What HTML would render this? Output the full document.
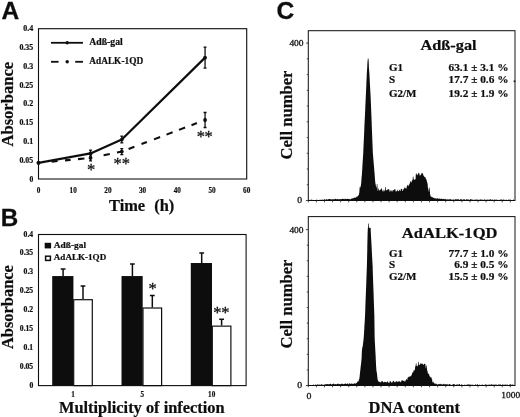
<!DOCTYPE html>
<html><head><meta charset="utf-8"><title>Figure</title>
<style>
html,body{margin:0;padding:0;background:#fff;}
body{width:520px;height:417px;overflow:hidden;}
svg{display:block;}
.sb{font-family:"Liberation Serif","Times New Roman",serif;font-weight:bold;fill:#111;stroke:#111;stroke-width:0.22px;}
.sr{font-family:"Liberation Serif","Times New Roman",serif;font-weight:normal;fill:#111;stroke:#111;stroke-width:0.3px;}
.h{font-family:"Liberation Sans",Arial,sans-serif;font-weight:bold;fill:#111;stroke:#111;stroke-width:0.3px;}
</style></head><body>
<svg width="520" height="417" viewBox="0 0 520 417">
<defs><filter id="soft" x="0" y="0" width="520" height="417" filterUnits="userSpaceOnUse"><feGaussianBlur stdDeviation="0.35"/></filter></defs>
<rect width="520" height="417" fill="#fff"/>
<g filter="url(#soft)">
<text x="1.60" y="18.50" font-size="24.50" class="h" text-anchor="start" >A</text>
<rect x="38.50" y="28.70" width="208.20" height="150.30" fill="none" stroke="#111" stroke-width="1.1"/>
<text x="33.20" y="181.60" font-size="8.60" class="sb" text-anchor="end" textLength="3.80" lengthAdjust="spacingAndGlyphs" >0</text>
<text x="33.20" y="162.81" font-size="8.60" class="sb" text-anchor="end" textLength="13.80" lengthAdjust="spacingAndGlyphs" >0.05</text>
<text x="33.20" y="144.03" font-size="8.60" class="sb" text-anchor="end" textLength="10.00" lengthAdjust="spacingAndGlyphs" >0.1</text>
<text x="33.20" y="125.24" font-size="8.60" class="sb" text-anchor="end" textLength="13.80" lengthAdjust="spacingAndGlyphs" >0.15</text>
<text x="33.20" y="106.45" font-size="8.60" class="sb" text-anchor="end" textLength="10.00" lengthAdjust="spacingAndGlyphs" >0.2</text>
<text x="33.20" y="87.66" font-size="8.60" class="sb" text-anchor="end" textLength="13.80" lengthAdjust="spacingAndGlyphs" >0.25</text>
<text x="33.20" y="68.87" font-size="8.60" class="sb" text-anchor="end" textLength="10.00" lengthAdjust="spacingAndGlyphs" >0.3</text>
<text x="33.20" y="50.09" font-size="8.60" class="sb" text-anchor="end" textLength="13.80" lengthAdjust="spacingAndGlyphs" >0.35</text>
<text x="33.20" y="31.30" font-size="8.60" class="sb" text-anchor="end" textLength="10.00" lengthAdjust="spacingAndGlyphs" >0.4</text>
<text x="38.50" y="192.70" font-size="8.80" class="sb" text-anchor="middle" textLength="3.60" lengthAdjust="spacingAndGlyphs" >0</text>
<text x="73.20" y="192.70" font-size="8.80" class="sb" text-anchor="middle" textLength="7.20" lengthAdjust="spacingAndGlyphs" >10</text>
<text x="107.90" y="192.70" font-size="8.80" class="sb" text-anchor="middle" textLength="7.20" lengthAdjust="spacingAndGlyphs" >20</text>
<text x="142.60" y="192.70" font-size="8.80" class="sb" text-anchor="middle" textLength="7.20" lengthAdjust="spacingAndGlyphs" >30</text>
<text x="177.30" y="192.70" font-size="8.80" class="sb" text-anchor="middle" textLength="7.20" lengthAdjust="spacingAndGlyphs" >40</text>
<text x="212.00" y="192.70" font-size="8.80" class="sb" text-anchor="middle" textLength="7.20" lengthAdjust="spacingAndGlyphs" >50</text>
<text x="246.70" y="192.70" font-size="8.80" class="sb" text-anchor="middle" textLength="7.20" lengthAdjust="spacingAndGlyphs" >60</text>
<text transform="translate(13.10 104.20) rotate(-90)" font-size="16.40" class="sb" text-anchor="middle" textLength="84.70" lengthAdjust="spacingAndGlyphs">Absorbance</text>
<text x="109.00" y="210.80" font-size="16.40" class="sb" text-anchor="start" >Time</text>
<text x="154.20" y="210.80" font-size="16.40" class="sb" text-anchor="start" >(h)</text>
<line x1="51" y1="42.8" x2="83" y2="42.8" stroke="#111" stroke-width="1.8"/>
<circle cx="67.2" cy="42.7" r="1.7" fill="#111"/>
<text x="89.20" y="45.30" font-size="9.60" class="sb" text-anchor="start" textLength="33.60" lengthAdjust="spacingAndGlyphs" >Adß-gal</text>
<line x1="51" y1="61.8" x2="58.6" y2="61.8" stroke="#111" stroke-width="1.8"/>
<line x1="75.2" y1="61.8" x2="83" y2="61.8" stroke="#111" stroke-width="1.8"/>
<circle cx="67.2" cy="61.7" r="1.7" fill="#111"/>
<text x="89.20" y="64.00" font-size="9.60" class="sb" text-anchor="start" textLength="54.00" lengthAdjust="spacingAndGlyphs" >AdALK-1QD</text>
<polyline points="38.50,162.84 90.55,153.45 121.78,139.55 205.06,57.63" fill="none" stroke="#111" stroke-width="2.2" stroke-linejoin="round"/>
<path d="M51.60 161.61L57.60 161.05M65.00 160.36L70.60 159.83M78.00 159.14L84.40 158.54M103.60 155.29L109.80 154.02M117.00 152.55L122.00 151.49M128.60 148.99L134.40 146.79M141.50 144.10L146.90 142.05M154.00 139.36L160.10 137.05M166.50 134.62L172.60 132.31M179.00 129.88L185.10 127.57M191.50 125.15L196.90 123.10" fill="none" stroke="#111" stroke-width="2.1"/>
<circle cx="38.50" cy="162.84" r="1.9" fill="#111"/>
<circle cx="90.55" cy="153.45" r="1.9" fill="#111"/>
<path d="M90.55 150.07V156.83M89.05 150.07h3M89.05 156.83h3" stroke="#111" stroke-width="1.3" fill="none"/>
<circle cx="121.78" cy="139.55" r="1.9" fill="#111"/>
<path d="M121.78 136.16V142.93M120.28 136.16h3M120.28 142.93h3" stroke="#111" stroke-width="1.3" fill="none"/>
<circle cx="205.06" cy="57.63" r="1.9" fill="#111"/>
<path d="M205.06 47.11V68.15M203.56 47.11h3M203.56 68.15h3" stroke="#111" stroke-width="1.3" fill="none"/>
<circle cx="38.50" cy="162.84" r="1.9" fill="#111"/>
<circle cx="90.55" cy="157.96" r="1.9" fill="#111"/>
<path d="M90.55 154.95V160.96M89.05 154.95h3M89.05 160.96h3" stroke="#111" stroke-width="1.3" fill="none"/>
<circle cx="121.78" cy="151.57" r="1.9" fill="#111"/>
<path d="M121.78 148.56V154.58M120.28 148.56h3M120.28 154.58h3" stroke="#111" stroke-width="1.3" fill="none"/>
<circle cx="205.06" cy="120.01" r="1.9" fill="#111"/>
<path d="M205.06 112.49V127.52M203.56 112.49h3M203.56 127.52h3" stroke="#111" stroke-width="1.3" fill="none"/>
<text x="91.20" y="175.38" font-size="16.50" class="sr" text-anchor="middle" stroke="#111" stroke-width="0.35">*</text>
<text x="117.70" y="169.08" font-size="16.50" class="sr" text-anchor="middle" stroke="#111" stroke-width="0.35">*</text>
<text x="125.80" y="169.08" font-size="16.50" class="sr" text-anchor="middle" stroke="#111" stroke-width="0.35">*</text>
<text x="200.80" y="141.98" font-size="16.50" class="sr" text-anchor="middle" stroke="#111" stroke-width="0.35">*</text>
<text x="208.60" y="141.98" font-size="16.50" class="sr" text-anchor="middle" stroke="#111" stroke-width="0.35">*</text>
<text x="0.80" y="226.30" font-size="24.20" class="h" text-anchor="start" >B</text>
<rect x="38.50" y="234.50" width="207.60" height="151.10" fill="none" stroke="#111" stroke-width="1.1"/>
<text x="33.20" y="387.60" font-size="8.20" class="sb" text-anchor="end" textLength="3.80" lengthAdjust="spacingAndGlyphs" >0</text>
<text x="33.20" y="368.71" font-size="8.20" class="sb" text-anchor="end" textLength="13.40" lengthAdjust="spacingAndGlyphs" >0.05</text>
<text x="33.20" y="349.83" font-size="8.20" class="sb" text-anchor="end" textLength="9.60" lengthAdjust="spacingAndGlyphs" >0.1</text>
<text x="33.20" y="330.94" font-size="8.20" class="sb" text-anchor="end" textLength="13.40" lengthAdjust="spacingAndGlyphs" >0.15</text>
<text x="33.20" y="312.05" font-size="8.20" class="sb" text-anchor="end" textLength="9.60" lengthAdjust="spacingAndGlyphs" >0.2</text>
<text x="33.20" y="293.16" font-size="8.20" class="sb" text-anchor="end" textLength="13.40" lengthAdjust="spacingAndGlyphs" >0.25</text>
<text x="33.20" y="274.27" font-size="8.20" class="sb" text-anchor="end" textLength="9.60" lengthAdjust="spacingAndGlyphs" >0.3</text>
<text x="33.20" y="255.39" font-size="8.20" class="sb" text-anchor="end" textLength="13.40" lengthAdjust="spacingAndGlyphs" >0.35</text>
<text x="33.20" y="236.50" font-size="8.20" class="sb" text-anchor="end" textLength="9.60" lengthAdjust="spacingAndGlyphs" >0.4</text>
<text transform="translate(13.10 307.10) rotate(-90)" font-size="16.40" class="sb" text-anchor="middle" textLength="84.00" lengthAdjust="spacingAndGlyphs">Absorbance</text>
<text x="59.00" y="412.60" font-size="16.40" class="sb" text-anchor="start" textLength="165.60" lengthAdjust="spacingAndGlyphs" >Multiplicity of infection</text>
<rect x="44.7" y="242.8" width="6.4" height="5.6" fill="#111"/>
<text x="53.80" y="248.00" font-size="9.20" class="sb" text-anchor="start" textLength="32.20" lengthAdjust="spacingAndGlyphs" >Adß-gal</text>
<rect x="45.6" y="256.2" width="4.8" height="4.2" fill="#fff" stroke="#111" stroke-width="1.5"/>
<text x="53.80" y="260.20" font-size="9.20" class="sb" text-anchor="start" textLength="52.40" lengthAdjust="spacingAndGlyphs" >AdALK-1QD</text>
<rect x="52.20" y="276.05" width="21.2" height="109.55" fill="#111"/>
<rect x="73.70" y="299.70" width="18.6" height="85.90" fill="#fff" stroke="#111" stroke-width="1.2"/>
<path d="M63.10 276.05V268.50M60.70 269.00h4.8" stroke="#111" stroke-width="1.5" fill="none"/>
<path d="M83.00 299.10V285.50M80.60 286.00h4.8" stroke="#111" stroke-width="1.5" fill="none"/>
<text x="73.10" y="397.20" font-size="8.60" class="sb" text-anchor="middle" textLength="3.60" lengthAdjust="spacingAndGlyphs" >1</text>
<rect x="121.50" y="276.05" width="21.2" height="109.55" fill="#111"/>
<rect x="143.00" y="308.01" width="18.6" height="77.59" fill="#fff" stroke="#111" stroke-width="1.2"/>
<path d="M132.40 276.05V263.59M130.00 264.09h4.8" stroke="#111" stroke-width="1.5" fill="none"/>
<path d="M152.30 307.41V294.94M149.90 295.44h4.8" stroke="#111" stroke-width="1.5" fill="none"/>
<text x="142.40" y="397.20" font-size="8.60" class="sb" text-anchor="middle" textLength="3.60" lengthAdjust="spacingAndGlyphs" >5</text>
<rect x="190.80" y="263.02" width="21.2" height="122.58" fill="#111"/>
<rect x="212.30" y="326.14" width="18.6" height="59.46" fill="#fff" stroke="#111" stroke-width="1.2"/>
<path d="M201.70 263.02V252.44M199.30 252.94h4.8" stroke="#111" stroke-width="1.5" fill="none"/>
<path d="M221.60 325.54V318.74M219.20 319.24h4.8" stroke="#111" stroke-width="1.5" fill="none"/>
<text x="211.70" y="397.20" font-size="8.60" class="sb" text-anchor="middle" textLength="7.20" lengthAdjust="spacingAndGlyphs" >10</text>
<text x="152.50" y="294.38" font-size="16.50" class="sr" text-anchor="middle" stroke="#111" stroke-width="0.35">*</text>
<text x="217.30" y="317.88" font-size="16.50" class="sr" text-anchor="middle" stroke="#111" stroke-width="0.35">*</text>
<text x="225.30" y="317.88" font-size="16.50" class="sr" text-anchor="middle" stroke="#111" stroke-width="0.35">*</text>
<text x="276.40" y="18.60" font-size="24.60" class="h" text-anchor="start" >C</text>
<rect x="308.30" y="30.70" width="206.70" height="169.80" fill="none" stroke="#111" stroke-width="1.0"/>
<line x1="305.90" y1="200.50" x2="308.30" y2="200.50" stroke="#222" stroke-width="0.8"/>
<line x1="306.80" y1="184.76" x2="308.30" y2="184.76" stroke="#222" stroke-width="0.8"/>
<line x1="306.80" y1="169.02" x2="308.30" y2="169.02" stroke="#222" stroke-width="0.8"/>
<line x1="306.80" y1="153.28" x2="308.30" y2="153.28" stroke="#222" stroke-width="0.8"/>
<line x1="306.80" y1="137.54" x2="308.30" y2="137.54" stroke="#222" stroke-width="0.8"/>
<line x1="306.80" y1="121.80" x2="308.30" y2="121.80" stroke="#222" stroke-width="0.8"/>
<line x1="306.80" y1="106.06" x2="308.30" y2="106.06" stroke="#222" stroke-width="0.8"/>
<line x1="306.80" y1="90.32" x2="308.30" y2="90.32" stroke="#222" stroke-width="0.8"/>
<line x1="306.80" y1="74.58" x2="308.30" y2="74.58" stroke="#222" stroke-width="0.8"/>
<line x1="306.80" y1="58.84" x2="308.30" y2="58.84" stroke="#222" stroke-width="0.8"/>
<line x1="305.90" y1="43.10" x2="308.30" y2="43.10" stroke="#222" stroke-width="0.8"/>
<line x1="308.30" y1="200.50" x2="308.30" y2="202.30" stroke="#222" stroke-width="0.8"/>
<line x1="316.38" y1="200.50" x2="316.38" y2="202.30" stroke="#222" stroke-width="0.8"/>
<line x1="324.46" y1="200.50" x2="324.46" y2="202.30" stroke="#222" stroke-width="0.8"/>
<line x1="332.55" y1="200.50" x2="332.55" y2="202.30" stroke="#222" stroke-width="0.8"/>
<line x1="340.63" y1="200.50" x2="340.63" y2="202.30" stroke="#222" stroke-width="0.8"/>
<line x1="348.71" y1="200.50" x2="348.71" y2="202.30" stroke="#222" stroke-width="0.8"/>
<line x1="356.79" y1="200.50" x2="356.79" y2="202.30" stroke="#222" stroke-width="0.8"/>
<line x1="364.87" y1="200.50" x2="364.87" y2="202.30" stroke="#222" stroke-width="0.8"/>
<line x1="372.96" y1="200.50" x2="372.96" y2="202.30" stroke="#222" stroke-width="0.8"/>
<line x1="381.04" y1="200.50" x2="381.04" y2="202.30" stroke="#222" stroke-width="0.8"/>
<line x1="389.12" y1="200.50" x2="389.12" y2="202.30" stroke="#222" stroke-width="0.8"/>
<line x1="397.20" y1="200.50" x2="397.20" y2="202.30" stroke="#222" stroke-width="0.8"/>
<line x1="405.29" y1="200.50" x2="405.29" y2="202.30" stroke="#222" stroke-width="0.8"/>
<line x1="413.37" y1="200.50" x2="413.37" y2="202.30" stroke="#222" stroke-width="0.8"/>
<line x1="421.45" y1="200.50" x2="421.45" y2="202.30" stroke="#222" stroke-width="0.8"/>
<line x1="429.53" y1="200.50" x2="429.53" y2="202.30" stroke="#222" stroke-width="0.8"/>
<line x1="437.61" y1="200.50" x2="437.61" y2="202.30" stroke="#222" stroke-width="0.8"/>
<line x1="445.70" y1="200.50" x2="445.70" y2="202.30" stroke="#222" stroke-width="0.8"/>
<line x1="453.78" y1="200.50" x2="453.78" y2="202.30" stroke="#222" stroke-width="0.8"/>
<line x1="461.86" y1="200.50" x2="461.86" y2="202.30" stroke="#222" stroke-width="0.8"/>
<line x1="469.94" y1="200.50" x2="469.94" y2="202.30" stroke="#222" stroke-width="0.8"/>
<line x1="478.02" y1="200.50" x2="478.02" y2="202.30" stroke="#222" stroke-width="0.8"/>
<line x1="486.11" y1="200.50" x2="486.11" y2="202.30" stroke="#222" stroke-width="0.8"/>
<line x1="494.19" y1="200.50" x2="494.19" y2="202.30" stroke="#222" stroke-width="0.8"/>
<line x1="502.27" y1="200.50" x2="502.27" y2="202.30" stroke="#222" stroke-width="0.8"/>
<line x1="510.35" y1="200.50" x2="510.35" y2="202.30" stroke="#222" stroke-width="0.8"/>
<text x="303.60" y="46.10" font-size="9.00" class="sr" text-anchor="end" textLength="14.20" lengthAdjust="spacingAndGlyphs" >400</text>
<text x="302.20" y="203.00" font-size="9.00" class="sr" text-anchor="end" textLength="4.90" lengthAdjust="spacingAndGlyphs" >0</text>
<text transform="translate(291.50 115.00) rotate(-90)" font-size="16.40" class="sb" text-anchor="middle" textLength="89.00" lengthAdjust="spacingAndGlyphs">Cell number</text>
<path d="M308.60 200.30L308.60 200.30L308.85 200.30L309.10 200.30L309.35 199.84L309.60 199.83L309.85 199.83L310.10 200.13L310.35 200.13L310.60 200.12L310.85 199.86L311.10 199.85L311.35 199.85L311.60 199.61L311.85 199.61L312.10 199.60L312.35 199.99L312.60 199.99L312.85 199.98L313.10 200.01L313.35 200.00L313.60 200.00L313.85 200.30L314.10 200.30L314.35 200.30L314.60 200.19L314.85 200.18L315.10 200.18L315.35 199.96L315.60 199.96L315.85 199.95L316.10 199.79L316.35 199.78L316.60 199.77L316.85 199.66L317.10 199.65L317.35 199.65L317.60 200.02L317.85 200.02L318.10 200.01L318.35 200.29L318.60 200.28L318.85 200.28L319.10 200.07L319.35 200.07L319.60 200.06L319.85 199.50L320.10 199.49L320.35 199.49L320.60 200.11L320.85 200.10L321.10 200.10L321.35 199.88L321.60 199.87L321.85 199.87L322.10 199.42L322.35 199.41L322.60 199.39L322.85 200.18L323.10 200.17L323.35 200.15L323.60 199.61L323.85 199.59L324.10 199.57L324.35 199.24L324.60 199.22L324.85 199.20L325.10 199.83L325.35 199.81L325.60 199.79L325.85 199.49L326.10 199.47L326.35 199.45L326.60 199.11L326.85 199.09L327.10 199.07L327.35 199.75L327.60 199.73L327.85 199.71L328.10 199.34L328.35 199.32L328.60 199.30L328.85 199.08L329.10 199.06L329.35 199.04L329.60 199.10L329.85 199.08L330.10 199.07L330.35 199.24L330.60 199.24L330.85 199.24L331.10 199.47L331.35 199.47L331.60 199.46L331.85 199.20L332.10 199.20L332.35 199.19L332.60 199.30L332.85 199.29L333.10 199.29L333.35 199.19L333.60 199.19L333.85 199.18L334.10 199.28L334.35 199.28L334.60 199.27L334.85 198.84L335.10 198.84L335.35 198.84L335.60 198.89L335.85 198.89L336.10 198.89L336.35 199.29L336.60 199.29L336.85 199.28L337.10 199.05L337.35 199.04L337.60 199.04L337.85 199.30L338.10 199.30L338.35 199.30L338.60 199.13L338.85 199.13L339.10 199.13L339.35 199.21L339.60 199.21L339.85 199.20L340.10 198.93L340.35 198.92L340.60 198.92L340.85 199.17L341.10 199.17L341.35 199.17L341.60 199.08L341.85 199.08L342.10 199.08L342.35 198.84L342.60 198.83L342.85 198.83L343.10 199.10L343.35 199.10L343.60 199.09L343.85 198.65L344.10 198.64L344.35 198.64L344.60 199.29L344.85 199.28L345.10 199.28L345.35 198.77L345.60 198.77L345.85 198.77L346.10 199.05L346.35 199.04L346.60 199.04L346.85 199.03L347.10 199.03L347.35 199.03L347.60 198.84L347.85 198.83L348.10 198.83L348.35 198.92L348.60 198.92L348.85 198.92L349.10 199.01L349.35 199.01L349.60 199.00L349.85 199.37L350.10 199.35L350.35 199.31L350.60 199.19L350.85 199.15L351.10 199.11L351.35 198.52L351.60 198.48L351.85 198.44L352.10 198.56L352.35 198.52L352.60 198.48L352.85 198.29L353.10 198.25L353.35 198.21L353.60 197.93L353.85 197.86L354.10 197.72L354.35 197.83L354.60 197.70L354.85 197.56L355.10 197.99L355.35 197.86L355.60 197.72L355.85 197.36L356.10 197.22L356.35 197.09L356.60 196.70L356.85 196.56L357.10 196.43L357.35 196.61L357.60 196.48L357.85 196.34L358.10 195.55L358.35 195.42L358.60 195.28L358.85 194.76L359.10 193.61L359.35 192.46L359.60 188.15L359.85 187.00L360.10 185.85L360.35 188.22L360.60 187.07L360.85 185.92L361.10 183.67L361.35 181.39L361.60 177.43L361.85 175.31L362.10 171.35L362.35 167.39L362.60 163.17L362.85 159.21L363.10 155.24L363.35 150.50L363.60 144.96L363.85 139.42L364.10 133.65L364.35 128.11L364.60 122.56L364.85 117.33L365.10 111.78L365.35 106.24L365.60 101.12L365.85 95.58L366.10 90.04L366.35 84.26L366.60 78.72L366.85 73.19L367.10 68.64L367.35 65.52L367.60 62.39L367.85 60.42L368.10 58.42L368.35 60.92L368.60 63.58L368.85 66.58L369.10 69.91L369.35 73.23L369.60 77.98L369.85 82.73L370.10 87.44L370.35 92.19L370.60 96.94L370.85 101.66L371.10 108.20L371.35 114.73L371.60 121.25L371.85 127.79L372.10 134.32L372.35 140.97L372.60 147.51L372.85 152.72L373.10 156.12L373.35 159.33L373.60 162.55L373.85 164.81L374.10 168.02L374.35 171.24L374.60 174.12L374.85 177.34L375.10 180.55L375.35 183.17L375.60 184.32L375.85 185.48L376.10 186.25L376.35 187.41L376.60 188.13L376.85 184.05L377.10 184.12L377.35 184.20L377.60 190.69L377.85 190.76L378.10 190.84L378.35 188.40L378.60 188.47L378.85 188.54L379.10 190.41L379.35 190.48L379.60 190.56L379.85 190.03L380.10 190.08L380.35 190.08L380.60 189.13L380.85 189.14L381.10 189.15L381.35 188.33L381.60 188.34L381.85 188.35L382.10 191.13L382.35 191.14L382.60 191.15L382.85 189.62L383.10 189.63L383.35 189.64L383.60 191.41L383.85 191.42L384.10 191.43L384.35 190.57L384.60 190.58L384.85 190.59L385.10 186.97L385.35 186.98L385.60 186.98L385.85 190.41L386.10 190.42L386.35 190.43L386.60 189.92L386.85 189.93L387.10 189.94L387.35 189.56L387.60 189.57L387.85 189.58L388.10 189.31L388.35 189.31L388.60 189.32L388.85 189.51L389.10 189.52L389.35 189.53L389.60 191.80L389.85 191.81L390.10 191.82L390.35 190.58L390.60 190.59L390.85 190.60L391.10 190.48L391.35 190.49L391.60 190.50L391.85 191.73L392.10 191.74L392.35 191.75L392.60 190.30L392.85 190.30L393.10 190.31L393.35 190.12L393.60 190.13L393.85 190.14L394.10 189.48L394.35 189.49L394.60 189.50L394.85 189.17L395.10 189.16L395.35 189.14L395.60 191.55L395.85 191.52L396.10 191.49L396.35 191.16L396.60 191.13L396.85 191.10L397.10 189.79L397.35 189.76L397.60 189.73L397.85 191.29L398.10 191.26L398.35 191.23L398.60 190.93L398.85 190.90L399.10 190.87L399.35 189.79L399.60 189.76L399.85 189.74L400.10 190.92L400.35 190.90L400.60 190.87L400.85 189.00L401.10 188.98L401.35 188.95L401.60 188.70L401.85 188.67L402.10 188.64L402.35 191.08L402.60 191.05L402.85 191.03L403.10 189.50L403.35 189.47L403.60 189.45L403.85 188.63L404.10 188.52L404.35 188.31L404.60 187.56L404.85 187.35L405.10 187.13L405.35 188.42L405.60 188.20L405.85 187.99L406.10 188.69L406.35 188.48L406.60 188.26L406.85 185.93L407.10 185.71L407.35 185.50L407.60 185.14L407.85 184.81L408.10 184.47L408.35 186.27L408.60 185.94L408.85 185.61L409.10 184.54L409.35 184.21L409.60 183.88L409.85 182.71L410.10 182.38L410.35 182.04L410.60 181.33L410.85 181.00L411.10 180.66L411.35 182.42L411.60 182.22L411.85 182.02L412.10 180.33L412.35 180.13L412.60 179.93L412.85 176.78L413.10 176.58L413.35 176.38L413.60 179.47L413.85 179.27L414.10 179.07L414.35 180.03L414.60 179.83L414.85 179.63L415.10 179.71L415.35 179.26L415.60 178.81L415.85 173.94L416.10 173.49L416.35 173.04L416.60 174.70L416.85 174.25L417.10 173.80L417.35 175.64L417.60 175.10L417.85 174.42L418.10 173.86L418.35 173.18L418.60 172.99L418.85 172.46L419.10 173.00L419.35 173.53L419.60 174.96L419.85 175.49L420.10 175.70L420.35 175.18L420.60 174.92L420.85 174.66L421.10 174.16L421.35 173.89L421.60 173.63L421.85 172.48L422.10 172.80L422.35 173.27L422.60 173.22L422.85 173.69L423.10 174.16L423.35 175.44L423.60 175.75L423.85 175.84L424.10 176.80L424.35 176.88L424.60 176.96L424.85 176.46L425.10 176.84L425.35 177.67L425.60 177.73L425.85 178.56L426.10 179.40L426.35 179.18L426.60 180.08L426.85 181.08L427.10 181.92L427.35 182.92L427.60 183.92L427.85 187.18L428.10 188.13L428.35 189.03L428.60 190.61L428.85 191.51L429.10 192.40L429.35 186.88L429.60 187.77L429.85 188.67L430.10 194.25L430.35 195.14L430.60 196.04L430.85 196.61L431.10 196.77L431.35 196.93L431.60 196.80L431.85 196.96L432.10 197.11L432.35 197.18L432.60 197.34L432.85 197.50L433.10 197.83L433.35 197.86L433.60 197.88L433.85 197.67L434.10 197.69L434.35 197.72L434.60 198.51L434.85 198.53L435.10 198.56L435.35 198.36L435.60 198.39L435.85 198.41L436.10 198.43L436.35 198.46L436.60 198.48L436.85 198.65L437.10 198.67L437.35 198.70L437.60 198.01L437.85 198.04L438.10 198.06L438.35 198.88L438.60 198.90L438.85 198.93L439.10 198.37L439.35 198.40L439.60 198.42L439.85 198.99L440.10 199.02L440.35 199.04L440.60 198.81L440.85 198.83L441.10 198.85L441.35 198.82L441.60 198.84L441.85 198.86L442.10 199.09L442.35 199.11L442.60 199.13L442.85 198.84L443.10 198.86L443.35 198.88L443.60 198.89L443.85 198.91L444.10 198.93L444.35 199.15L444.60 199.16L444.85 199.18L445.10 198.83L445.35 198.84L445.60 198.86L445.85 199.40L446.10 199.42L446.35 199.44L446.60 199.43L446.85 199.45L447.10 199.47L447.35 199.34L447.60 199.36L447.85 199.38L448.10 199.38L448.35 199.40L448.60 199.42L448.85 199.59L449.10 199.61L449.35 199.63L449.60 199.01L449.85 199.03L450.10 199.04L450.35 199.13L450.60 199.13L450.85 199.13L451.10 199.78L451.35 199.79L451.60 199.79L451.85 199.56L452.10 199.56L452.35 199.56L452.60 199.69L452.85 199.69L453.10 199.69L453.35 199.50L453.60 199.50L453.85 199.50L454.10 199.66L454.35 199.66L454.60 199.67L454.85 199.47L455.10 199.47L455.35 199.47L455.60 199.10L455.85 199.10L456.10 199.10L456.35 199.59L456.60 199.59L456.85 199.59L457.10 199.36L457.35 199.36L457.60 199.36L457.85 199.41L458.10 199.41L458.35 199.42L458.60 199.28L458.85 199.28L459.10 199.28L459.35 199.91L459.60 199.91L459.85 199.91L460.10 199.30L460.35 199.30L460.60 199.31L460.85 199.13L461.10 199.13L461.35 199.13L461.60 199.44L461.85 199.45L462.10 199.45L462.35 199.73L462.60 199.74L462.85 199.74L463.10 199.40L463.35 199.40L463.60 199.40L463.85 199.37L464.10 199.37L464.35 199.37L464.60 199.43L464.85 199.43L465.10 199.43L465.35 199.89L465.60 199.89L465.85 199.90L466.10 199.15L466.35 199.16L466.60 199.16L466.85 199.18L467.10 199.18L467.35 199.18L467.60 199.66L467.85 199.67L468.10 199.67L468.35 199.52L468.60 199.52L468.85 199.52L469.10 200.03L469.35 200.03L469.60 200.03L469.85 199.18L470.10 199.18L470.35 199.18L470.60 199.34L470.85 199.34L471.10 199.34L471.35 199.50L471.60 199.50L471.85 199.51L472.10 199.39L472.35 199.40L472.60 199.40L472.85 199.91L473.10 199.91L473.35 199.92L473.60 199.81L473.85 199.81L474.10 199.81L474.35 199.87L474.60 199.87L474.85 199.87L475.10 199.56L475.35 199.56L475.60 199.56L475.85 200.01L476.10 200.01L476.35 200.02L476.60 199.29L476.85 199.29L477.10 199.30L477.35 199.69L477.60 199.69L477.85 199.69L478.10 199.71L478.35 199.71L478.60 199.71L478.85 200.02L479.10 200.02L479.35 200.02L479.60 199.50L479.85 199.50L480.10 199.50L480.35 199.38L480.60 199.38L480.85 199.38L481.10 199.55L481.35 199.55L481.60 199.55L481.85 199.90L482.10 199.91L482.35 199.91L482.60 199.42L482.85 199.42L483.10 199.42L483.35 200.00L483.60 200.00L483.85 200.00L484.10 199.39L484.35 199.39L484.60 199.39L484.85 199.61L485.10 199.61L485.35 199.62L485.60 199.88L485.85 199.88L486.10 199.88L486.35 199.68L486.60 199.68L486.85 199.68L487.10 199.58L487.35 199.58L487.60 199.58L487.85 199.92L488.10 199.92L488.35 199.92L488.60 199.39L488.85 199.39L489.10 199.39L489.35 199.78L489.60 199.78L489.85 199.78L490.10 199.36L490.35 199.36L490.60 199.36L490.85 199.41L491.10 199.41L491.35 199.41L491.60 200.08L491.85 200.08L492.10 200.08L492.35 199.59L492.60 199.59L492.85 199.59L493.10 199.89L493.35 199.89L493.60 199.90L493.85 199.50L494.10 199.50L494.35 199.50L494.60 199.69L494.85 199.69L495.10 199.69L495.35 199.77L495.60 199.77L495.85 199.77L496.10 199.38L496.35 199.38L496.60 199.38L496.85 200.14L497.10 200.14L497.35 200.14L497.60 199.69L497.85 199.69L498.10 199.69L498.35 199.90L498.60 199.90L498.85 199.90L499.10 200.17L499.35 200.17L499.60 200.17L499.85 199.52L500.10 199.53L500.35 199.53L500.60 199.70L500.85 199.70L501.10 199.70L501.35 199.40L501.60 199.41L501.85 199.41L502.10 199.67L502.35 199.68L502.60 199.68L502.85 199.91L503.10 199.91L503.35 199.91L503.60 199.33L503.85 199.33L504.10 199.33L504.35 200.12L504.60 200.12L504.85 200.12L505.10 200.18L505.35 200.18L505.60 200.18L505.85 199.57L506.10 199.57L506.35 199.57L506.60 199.90L506.85 199.90L507.10 199.90L507.35 199.91L507.60 199.91L507.85 199.91L508.10 199.45L508.35 199.45L508.60 199.45L508.85 199.95L509.10 199.95L509.35 199.95L509.60 199.45L509.85 199.45L510.10 199.45L510.35 199.67L510.60 199.67L510.85 199.67L511.10 199.96L511.35 199.96L511.60 199.96L511.85 200.20L512.10 200.20L512.35 200.20L512.60 200.04L512.85 200.04L513.10 200.04L513.35 199.39L513.60 199.39L513.85 199.39L514.10 199.90L514.35 199.90L514.35 200.30Z" fill="#0a0a0a"/>
<text x="420.40" y="49.50" font-size="15.40" class="sb" text-anchor="start" textLength="56.20" lengthAdjust="spacingAndGlyphs" >Adß-gal</text>
<text x="389.00" y="70.60" font-size="11.00" class="sb" text-anchor="start" >G1</text>
<text x="508.50" y="70.60" font-size="11.30" class="sb" text-anchor="end" textLength="60.00" lengthAdjust="spacingAndGlyphs" >63.1 ± 3.1 %</text>
<text x="389.00" y="82.50" font-size="11.00" class="sb" text-anchor="start" >S</text>
<text x="508.50" y="82.50" font-size="11.30" class="sb" text-anchor="end" textLength="60.00" lengthAdjust="spacingAndGlyphs" >17.7 ± 0.6 %</text>
<text x="389.00" y="96.90" font-size="11.00" class="sb" text-anchor="start" >G2/M</text>
<text x="508.50" y="96.90" font-size="11.30" class="sb" text-anchor="end" textLength="60.00" lengthAdjust="spacingAndGlyphs" >19.2 ± 1.9 %</text>
<path d="M368.2 66V58.6" stroke="#111" stroke-width="0.7"/>
<circle cx="514.5" cy="81.2" r="1.0" fill="#222"/>
<rect x="308.30" y="216.60" width="206.70" height="168.90" fill="none" stroke="#111" stroke-width="1.0"/>
<line x1="305.90" y1="385.50" x2="308.30" y2="385.50" stroke="#222" stroke-width="0.8"/>
<line x1="306.80" y1="369.91" x2="308.30" y2="369.91" stroke="#222" stroke-width="0.8"/>
<line x1="306.80" y1="354.32" x2="308.30" y2="354.32" stroke="#222" stroke-width="0.8"/>
<line x1="306.80" y1="338.73" x2="308.30" y2="338.73" stroke="#222" stroke-width="0.8"/>
<line x1="306.80" y1="323.14" x2="308.30" y2="323.14" stroke="#222" stroke-width="0.8"/>
<line x1="306.80" y1="307.55" x2="308.30" y2="307.55" stroke="#222" stroke-width="0.8"/>
<line x1="306.80" y1="291.96" x2="308.30" y2="291.96" stroke="#222" stroke-width="0.8"/>
<line x1="306.80" y1="276.37" x2="308.30" y2="276.37" stroke="#222" stroke-width="0.8"/>
<line x1="306.80" y1="260.78" x2="308.30" y2="260.78" stroke="#222" stroke-width="0.8"/>
<line x1="306.80" y1="245.19" x2="308.30" y2="245.19" stroke="#222" stroke-width="0.8"/>
<line x1="305.90" y1="229.60" x2="308.30" y2="229.60" stroke="#222" stroke-width="0.8"/>
<line x1="308.30" y1="385.50" x2="308.30" y2="387.30" stroke="#222" stroke-width="0.8"/>
<line x1="316.38" y1="385.50" x2="316.38" y2="387.30" stroke="#222" stroke-width="0.8"/>
<line x1="324.46" y1="385.50" x2="324.46" y2="387.30" stroke="#222" stroke-width="0.8"/>
<line x1="332.55" y1="385.50" x2="332.55" y2="387.30" stroke="#222" stroke-width="0.8"/>
<line x1="340.63" y1="385.50" x2="340.63" y2="387.30" stroke="#222" stroke-width="0.8"/>
<line x1="348.71" y1="385.50" x2="348.71" y2="387.30" stroke="#222" stroke-width="0.8"/>
<line x1="356.79" y1="385.50" x2="356.79" y2="387.30" stroke="#222" stroke-width="0.8"/>
<line x1="364.87" y1="385.50" x2="364.87" y2="387.30" stroke="#222" stroke-width="0.8"/>
<line x1="372.96" y1="385.50" x2="372.96" y2="387.30" stroke="#222" stroke-width="0.8"/>
<line x1="381.04" y1="385.50" x2="381.04" y2="387.30" stroke="#222" stroke-width="0.8"/>
<line x1="389.12" y1="385.50" x2="389.12" y2="387.30" stroke="#222" stroke-width="0.8"/>
<line x1="397.20" y1="385.50" x2="397.20" y2="387.30" stroke="#222" stroke-width="0.8"/>
<line x1="405.29" y1="385.50" x2="405.29" y2="387.30" stroke="#222" stroke-width="0.8"/>
<line x1="413.37" y1="385.50" x2="413.37" y2="387.30" stroke="#222" stroke-width="0.8"/>
<line x1="421.45" y1="385.50" x2="421.45" y2="387.30" stroke="#222" stroke-width="0.8"/>
<line x1="429.53" y1="385.50" x2="429.53" y2="387.30" stroke="#222" stroke-width="0.8"/>
<line x1="437.61" y1="385.50" x2="437.61" y2="387.30" stroke="#222" stroke-width="0.8"/>
<line x1="445.70" y1="385.50" x2="445.70" y2="387.30" stroke="#222" stroke-width="0.8"/>
<line x1="453.78" y1="385.50" x2="453.78" y2="387.30" stroke="#222" stroke-width="0.8"/>
<line x1="461.86" y1="385.50" x2="461.86" y2="387.30" stroke="#222" stroke-width="0.8"/>
<line x1="469.94" y1="385.50" x2="469.94" y2="387.30" stroke="#222" stroke-width="0.8"/>
<line x1="478.02" y1="385.50" x2="478.02" y2="387.30" stroke="#222" stroke-width="0.8"/>
<line x1="486.11" y1="385.50" x2="486.11" y2="387.30" stroke="#222" stroke-width="0.8"/>
<line x1="494.19" y1="385.50" x2="494.19" y2="387.30" stroke="#222" stroke-width="0.8"/>
<line x1="502.27" y1="385.50" x2="502.27" y2="387.30" stroke="#222" stroke-width="0.8"/>
<line x1="510.35" y1="385.50" x2="510.35" y2="387.30" stroke="#222" stroke-width="0.8"/>
<text x="303.60" y="232.60" font-size="9.00" class="sr" text-anchor="end" textLength="14.20" lengthAdjust="spacingAndGlyphs" >400</text>
<text x="302.20" y="388.00" font-size="9.00" class="sr" text-anchor="end" textLength="4.90" lengthAdjust="spacingAndGlyphs" >0</text>
<text transform="translate(291.50 304.00) rotate(-90)" font-size="16.40" class="sb" text-anchor="middle" textLength="89.00" lengthAdjust="spacingAndGlyphs">Cell number</text>
<path d="M308.60 385.30L308.60 384.69L308.85 384.68L309.10 384.67L309.35 384.96L309.60 384.95L309.85 384.94L310.10 385.24L310.35 385.24L310.60 385.23L310.85 385.25L311.10 385.25L311.35 385.24L311.60 385.30L311.85 385.30L312.10 385.30L312.35 384.90L312.60 384.89L312.85 384.88L313.10 384.61L313.35 384.60L313.60 384.59L313.85 385.20L314.10 385.19L314.35 385.18L314.60 384.92L314.85 384.92L315.10 384.91L315.35 384.40L315.60 384.39L315.85 384.38L316.10 384.96L316.35 384.96L316.60 384.95L316.85 384.40L317.10 384.39L317.35 384.38L317.60 384.49L317.85 384.48L318.10 384.46L318.35 384.78L318.60 384.75L318.85 384.73L319.10 384.57L319.35 384.55L319.60 384.53L319.85 385.08L320.10 385.05L320.35 385.03L320.60 384.56L320.85 384.54L321.10 384.52L321.35 384.25L321.60 384.23L321.85 384.21L322.10 384.72L322.35 384.70L322.60 384.68L322.85 384.83L323.10 384.81L323.35 384.79L323.60 384.79L323.85 384.77L324.10 384.75L324.35 384.60L324.60 384.57L324.85 384.55L325.10 384.46L325.35 384.46L325.60 384.45L325.85 383.88L326.10 383.88L326.35 383.87L326.60 384.22L326.85 384.21L327.10 384.21L327.35 384.13L327.60 384.12L327.85 384.12L328.10 384.34L328.35 384.33L328.60 384.33L328.85 384.34L329.10 384.34L329.35 384.33L329.60 384.07L329.85 384.07L330.10 384.06L330.35 383.87L330.60 383.86L330.85 383.86L331.10 384.42L331.35 384.42L331.60 384.41L331.85 384.16L332.10 384.15L332.35 384.15L332.60 383.93L332.85 383.93L333.10 383.93L333.35 383.61L333.60 383.60L333.85 383.60L334.10 384.28L334.35 384.28L334.60 384.28L334.85 384.15L335.10 384.15L335.35 384.14L335.60 383.96L335.85 383.96L336.10 383.95L336.35 384.38L336.60 384.37L336.85 384.37L337.10 383.89L337.35 383.89L337.60 383.89L337.85 383.52L338.10 383.52L338.35 383.51L338.60 384.21L338.85 384.20L339.10 384.20L339.35 383.99L339.60 383.99L339.85 383.98L340.10 384.34L340.35 384.34L340.60 384.33L340.85 383.93L341.10 383.92L341.35 383.92L341.60 383.46L341.85 383.46L342.10 383.45L342.35 383.88L342.60 383.88L342.85 383.87L343.10 384.20L343.35 384.19L343.60 384.19L343.85 384.09L344.10 384.08L344.35 384.08L344.60 383.76L344.85 383.76L345.10 383.75L345.35 383.52L345.60 383.51L345.85 383.51L346.10 383.91L346.35 383.90L346.60 383.90L346.85 383.86L347.10 383.86L347.35 383.85L347.60 383.53L347.85 383.53L348.10 383.52L348.35 384.22L348.60 384.22L348.85 384.21L349.10 383.36L349.35 383.36L349.60 383.36L349.85 383.84L350.10 383.83L350.35 383.81L350.60 383.92L350.85 383.90L351.10 383.88L351.35 383.41L351.60 383.39L351.85 383.37L352.10 383.87L352.35 383.85L352.60 383.83L352.85 383.92L353.10 383.90L353.35 383.87L353.60 383.74L353.85 383.72L354.10 383.70L354.35 383.26L354.60 383.24L354.85 383.22L355.10 383.77L355.35 383.75L355.60 383.73L355.85 383.36L356.10 383.24L356.35 382.97L356.60 382.91L356.85 382.64L357.10 382.37L357.35 381.68L357.60 381.41L357.85 381.14L358.10 381.84L358.35 381.57L358.60 381.30L358.85 379.50L359.10 379.23L359.35 378.96L359.60 376.63L359.85 374.23L360.10 371.83L360.35 370.01L360.60 367.61L360.85 365.15L361.10 363.49L361.35 361.03L361.60 358.57L361.85 351.43L362.10 348.97L362.35 346.51L362.60 347.80L362.85 345.34L363.10 342.88L363.35 341.56L363.60 339.10L363.85 336.03L364.10 331.44L364.35 327.44L364.60 323.44L364.85 319.30L365.10 314.22L365.35 307.51L365.60 300.82L365.85 294.11L366.10 287.40L366.35 281.03L366.60 274.32L366.85 267.61L367.10 256.95L367.35 245.78L367.60 234.60L367.85 227.98L368.10 227.52L368.35 226.28L368.60 225.17L368.85 227.53L369.10 227.67L369.35 227.72L369.60 227.85L369.85 227.99L370.10 227.84L370.35 227.98L370.60 228.11L370.85 232.90L371.10 237.65L371.35 242.40L371.60 246.91L371.85 251.66L372.10 256.41L372.35 261.25L372.60 266.00L372.85 273.08L373.10 280.65L373.35 287.73L373.60 294.81L373.85 301.72L374.10 308.80L374.35 315.89L374.60 336.94L374.85 341.63L375.10 346.33L375.35 351.25L375.60 355.95L375.85 360.65L376.10 365.90L376.35 369.64L376.60 371.94L376.85 372.53L377.10 374.83L377.35 377.13L377.60 379.82L377.85 380.17L378.10 380.52L378.35 381.21L378.60 381.56L378.85 381.91L379.10 381.63L379.35 381.64L379.60 381.64L379.85 382.15L380.10 382.16L380.35 382.16L380.60 382.24L380.85 382.24L381.10 382.25L381.35 381.32L381.60 381.32L381.85 381.32L382.10 381.01L382.35 381.01L382.60 381.02L382.85 381.95L383.10 381.95L383.35 381.96L383.60 382.56L383.85 382.56L384.10 382.57L384.35 381.82L384.60 381.82L384.85 381.82L385.10 382.01L385.35 382.01L385.60 382.02L385.85 381.94L386.10 381.94L386.35 381.95L386.60 382.42L386.85 382.43L387.10 382.43L387.35 381.16L387.60 381.17L387.85 381.17L388.10 382.54L388.35 382.54L388.60 382.55L388.85 382.95L389.10 382.95L389.35 382.96L389.60 381.37L389.85 381.38L390.10 381.38L390.35 381.26L390.60 381.25L390.85 381.24L391.10 382.44L391.35 382.43L391.60 382.42L391.85 382.57L392.10 382.56L392.35 382.55L392.60 381.56L392.85 381.55L393.10 381.54L393.35 380.72L393.60 380.71L393.85 380.70L394.10 382.29L394.35 382.28L394.60 382.27L394.85 381.57L395.10 381.56L395.35 381.55L395.60 382.20L395.85 382.19L396.10 382.18L396.35 381.03L396.60 381.02L396.85 381.01L397.10 381.65L397.35 381.64L397.60 381.63L397.85 381.84L398.10 381.83L398.35 381.82L398.60 381.14L398.85 381.13L399.10 381.12L399.35 381.41L399.60 381.40L399.85 381.39L400.10 382.17L400.35 382.14L400.60 382.11L400.85 381.56L401.10 381.53L401.35 381.50L401.60 380.17L401.85 380.14L402.10 380.11L402.35 380.46L402.60 380.43L402.85 380.40L403.10 381.06L403.35 381.03L403.60 381.00L403.85 380.61L404.10 380.58L404.35 380.55L404.60 381.77L404.85 381.74L405.10 381.64L405.35 380.80L405.60 380.61L405.85 380.42L406.10 379.07L406.35 378.88L406.60 378.69L406.85 380.19L407.10 380.00L407.35 379.81L407.60 377.71L407.85 377.52L408.10 377.29L408.35 377.32L408.60 377.03L408.85 376.74L409.10 376.84L409.35 376.56L409.60 376.27L409.85 376.73L410.10 376.44L410.35 376.15L410.60 376.54L410.85 376.25L411.10 375.96L411.35 375.19L411.60 374.90L411.85 374.61L412.10 373.16L412.35 372.76L412.60 372.36L412.85 372.72L413.10 372.32L413.35 371.91L413.60 370.60L413.85 370.20L414.10 369.79L414.35 370.80L414.60 370.40L414.85 369.99L415.10 367.03L415.35 366.62L415.60 366.22L415.85 363.87L416.10 363.47L416.35 363.12L416.60 366.14L416.85 365.86L417.10 365.58L417.35 366.55L417.60 366.27L417.85 365.99L418.10 362.13L418.35 361.85L418.60 361.58L418.85 365.22L419.10 364.94L419.35 364.66L419.60 364.67L419.85 364.71L420.10 364.75L420.35 363.14L420.60 363.18L420.85 363.22L421.10 363.85L421.35 363.89L421.60 363.94L421.85 363.33L422.10 363.37L422.35 363.41L422.60 364.17L422.85 364.26L423.10 364.35L423.35 364.74L423.60 364.83L423.85 364.92L424.10 363.69L424.35 363.79L424.60 363.88L424.85 363.72L425.10 363.81L425.35 364.19L425.60 367.14L425.85 367.94L426.10 368.74L426.35 364.77L426.60 365.48L426.85 366.04L427.10 370.28L427.35 370.84L427.60 371.40L427.85 373.29L428.10 373.85L428.35 374.31L428.60 373.31L428.85 373.78L429.10 374.24L429.35 375.52L429.60 375.98L429.85 376.45L430.10 376.74L430.35 377.21L430.60 377.67L430.85 376.65L431.10 377.12L431.35 377.60L431.60 378.62L431.85 379.10L432.10 379.57L432.35 381.70L432.60 382.18L432.85 382.65L433.10 381.63L433.35 381.86L433.60 382.10L433.85 383.30L434.10 383.53L434.35 383.77L434.60 383.13L434.85 383.37L435.10 383.52L435.35 383.82L435.60 383.83L435.85 383.84L436.10 383.81L436.35 383.82L436.60 383.83L436.85 384.46L437.10 384.47L437.35 384.48L437.60 384.42L437.85 384.43L438.10 384.44L438.35 384.01L438.60 384.02L438.85 384.03L439.10 384.18L439.35 384.19L439.60 384.20L439.85 383.78L440.10 383.79L440.35 383.80L440.60 384.34L440.85 384.35L441.10 384.36L441.35 384.25L441.60 384.26L441.85 384.27L442.10 384.56L442.35 384.57L442.60 384.58L442.85 384.21L443.10 384.22L443.35 384.23L443.60 383.79L443.85 383.80L444.10 383.81L444.35 384.51L444.60 384.52L444.85 384.53L445.10 384.01L445.35 384.02L445.60 384.03L445.85 384.67L446.10 384.68L446.35 384.69L446.60 383.98L446.85 383.99L447.10 384.00L447.35 384.38L447.60 384.39L447.85 384.40L448.10 384.80L448.35 384.81L448.60 384.82L448.85 384.17L449.10 384.18L449.35 384.19L449.60 384.10L449.85 384.11L450.10 384.11L450.35 384.86L450.60 384.86L450.85 384.86L451.10 384.89L451.35 384.90L451.60 384.90L451.85 384.77L452.10 384.77L452.35 384.77L452.60 384.51L452.85 384.51L453.10 384.52L453.35 384.08L453.60 384.09L453.85 384.09L454.10 384.18L454.35 384.18L454.60 384.19L454.85 384.72L455.10 384.73L455.35 384.73L455.60 385.02L455.85 385.02L456.10 385.02L456.35 384.47L456.60 384.47L456.85 384.47L457.10 384.50L457.35 384.50L457.60 384.50L457.85 384.84L458.10 384.84L458.35 384.84L458.60 384.48L458.85 384.48L459.10 384.49L459.35 384.11L459.60 384.11L459.85 384.12L460.10 384.96L460.35 384.96L460.60 384.96L460.85 384.79L461.10 384.80L461.35 384.80L461.60 384.27L461.85 384.27L462.10 384.27L462.35 384.96L462.60 384.97L462.85 384.97L463.10 385.00L463.35 385.00L463.60 385.01L463.85 384.97L464.10 384.97L464.35 384.97L464.60 384.38L464.85 384.38L465.10 384.38L465.35 385.03L465.60 385.03L465.85 385.03L466.10 385.07L466.35 385.07L466.60 385.07L466.85 384.54L467.10 384.54L467.35 384.55L467.60 384.41L467.85 384.41L468.10 384.41L468.35 384.43L468.60 384.43L468.85 384.43L469.10 384.76L469.35 384.76L469.60 384.76L469.85 384.28L470.10 384.28L470.35 384.28L470.60 385.05L470.85 385.05L471.10 385.05L471.35 384.76L471.60 384.76L471.85 384.76L472.10 384.84L472.35 384.84L472.60 384.84L472.85 384.66L473.10 384.66L473.35 384.66L473.60 385.01L473.85 385.02L474.10 385.02L474.35 385.06L474.60 385.06L474.85 385.06L475.10 384.23L475.35 384.23L475.60 384.23L475.85 384.91L476.10 384.91L476.35 384.91L476.60 384.71L476.85 384.72L477.10 384.72L477.35 384.30L477.60 384.30L477.85 384.30L478.10 384.92L478.35 384.92L478.60 384.92L478.85 384.85L479.10 384.85L479.35 384.85L479.60 384.66L479.85 384.66L480.10 384.66L480.35 385.15L480.60 385.16L480.85 385.16L481.10 385.20L481.35 385.20L481.60 385.20L481.85 384.59L482.10 384.59L482.35 384.59L482.60 384.86L482.85 384.86L483.10 384.86L483.35 385.15L483.60 385.15L483.85 385.15L484.10 384.94L484.35 384.95L484.60 384.95L484.85 384.54L485.10 384.54L485.35 384.54L485.60 384.48L485.85 384.48L486.10 384.48L486.35 384.73L486.60 384.73L486.85 384.73L487.10 385.02L487.35 385.02L487.60 385.02L487.85 384.40L488.10 384.40L488.35 384.40L488.60 385.03L488.85 385.03L489.10 385.03L489.35 384.49L489.60 384.49L489.85 384.49L490.10 385.09L490.35 385.09L490.60 385.09L490.85 384.31L491.10 384.31L491.35 384.31L491.60 384.47L491.85 384.48L492.10 384.48L492.35 384.75L492.60 384.75L492.85 384.75L493.10 384.82L493.35 384.82L493.60 384.82L493.85 384.68L494.10 384.68L494.35 384.68L494.60 384.59L494.85 384.59L495.10 384.59L495.35 384.70L495.60 384.70L495.85 384.70L496.10 384.56L496.35 384.56L496.60 384.56L496.85 385.17L497.10 385.17L497.35 385.17L497.60 384.84L497.85 384.84L498.10 384.85L498.35 384.51L498.60 384.51L498.85 384.51L499.10 384.83L499.35 384.83L499.60 384.83L499.85 384.30L500.10 384.30L500.35 384.30L500.60 384.73L500.85 384.73L501.10 384.74L501.35 384.96L501.60 384.96L501.85 384.96L502.10 384.38L502.35 384.38L502.60 384.38L502.85 384.85L503.10 384.85L503.35 384.85L503.60 384.73L503.85 384.73L504.10 384.73L504.35 384.63L504.60 384.64L504.85 384.64L505.10 384.42L505.35 384.42L505.60 384.42L505.85 385.07L506.10 385.07L506.35 385.07L506.60 384.41L506.85 384.41L507.10 384.41L507.35 384.71L507.60 384.71L507.85 384.71L508.10 384.92L508.35 384.92L508.60 384.92L508.85 384.95L509.10 384.95L509.35 384.95L509.60 384.31L509.85 384.31L510.10 384.31L510.35 384.34L510.60 384.34L510.85 384.34L511.10 384.75L511.35 384.75L511.60 384.75L511.85 384.95L512.10 384.95L512.35 384.95L512.60 384.32L512.85 384.32L513.10 384.32L513.35 385.28L513.60 385.28L513.85 385.28L514.10 385.25L514.35 385.25L514.35 385.30Z" fill="#0a0a0a"/>
<text x="401.80" y="237.70" font-size="15.40" class="sb" text-anchor="start" textLength="95.70" lengthAdjust="spacingAndGlyphs" >AdALK-1QD</text>
<text x="389.00" y="256.70" font-size="11.00" class="sb" text-anchor="start" >G1</text>
<text x="508.50" y="256.70" font-size="11.30" class="sb" text-anchor="end" textLength="60.00" lengthAdjust="spacingAndGlyphs" >77.7 ± 1.0 %</text>
<text x="389.00" y="268.40" font-size="11.00" class="sb" text-anchor="start" >S</text>
<text x="508.50" y="268.40" font-size="11.30" class="sb" text-anchor="end" textLength="54.30" lengthAdjust="spacingAndGlyphs" >6.9 ± 0.5 %</text>
<text x="389.00" y="280.00" font-size="11.00" class="sb" text-anchor="start" >G2/M</text>
<text x="508.50" y="280.00" font-size="11.30" class="sb" text-anchor="end" textLength="60.00" lengthAdjust="spacingAndGlyphs" >15.5 ± 0.9 %</text>
<path d="M368.55 229V223.6" stroke="#111" stroke-width="0.7"/>
<text x="309.00" y="398.70" font-size="9.00" class="sr" text-anchor="middle" textLength="4.90" lengthAdjust="spacingAndGlyphs" >0</text>
<text x="501.30" y="398.20" font-size="9.00" class="sr" text-anchor="start" textLength="18.80" lengthAdjust="spacingAndGlyphs" >1000</text>
<text x="368.60" y="412.60" font-size="16.40" class="sb" text-anchor="start" textLength="91.40" lengthAdjust="spacingAndGlyphs" >DNA content</text>
</g>
</svg>
</body></html>
